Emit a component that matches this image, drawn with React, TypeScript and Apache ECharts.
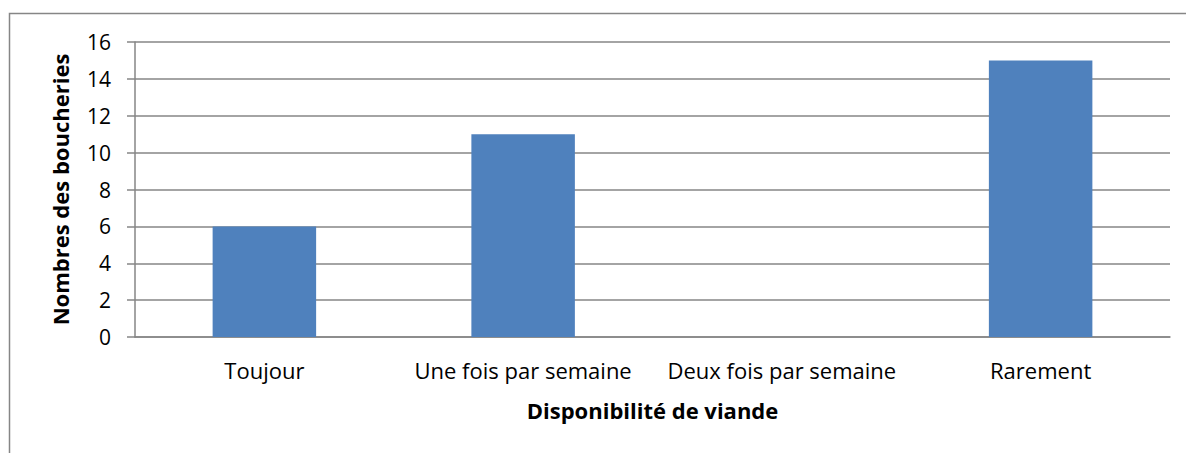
import React, { useEffect, useRef } from "react";
import * as echarts from "echarts";

const categories = ["Toujour", "Une fois par semaine", "Deux fois par semaine", "Rarement"];
const values = [6, 11, 0, 15];
const xTitle = "Disponibilité de viande";
const yTitle = "Nombres des boucheries";

export default function App() {
  const ref = useRef<HTMLDivElement>(null);
  useEffect(() => {
    if (!ref.current) return;
    const chart = echarts.init(ref.current, null, { renderer: "svg" });
    const font = "'Open Sans', 'Noto Sans', sans-serif";
    chart.setOption({
      animation: false,
      backgroundColor: "#ffffff",
      graphic: [
        {
          type: "rect",
          shape: { x: 9.5, y: 13.5, width: 1200, height: 460 },
          style: { fill: "none", stroke: "#868686", lineWidth: 1.5 },
          silent: true,
        },
      ],
      grid: { left: 135, right: 16, top: 42, bottom: 116, containLabel: false },
      xAxis: {
        type: "category",
        data: categories,
        name: xTitle,
        nameLocation: "middle",
        nameGap: 62,
        nameTextStyle: { fontFamily: font, fontSize: 22, fontWeight: "bold", color: "#000" },
        axisLine: { show: true, lineStyle: { color: "#868686", width: 1.5 } },
        axisTick: { show: false },
        axisLabel: { fontFamily: font, fontSize: 22, color: "#000", margin: 22, interval: 0 },
      },
      yAxis: {
        type: "value",
        min: 0,
        max: 16,
        interval: 2,
        name: yTitle,
        nameLocation: "middle",
        nameGap: 64,
        nameTextStyle: { fontFamily: font, fontSize: 22, fontWeight: "bold", color: "#000" },
        axisLine: { show: true, lineStyle: { color: "#868686", width: 1.5 } },
        axisTick: { show: true, length: 8, lineStyle: { color: "#868686", width: 1.5 } },
        splitLine: { show: true, lineStyle: { color: "#868686", width: 1.5 } },
        axisLabel: { fontFamily: font, fontSize: 21, color: "#000", margin: 24 },
      },
      series: [
        {
          type: "bar",
          data: values,
          barWidth: "40%",
          itemStyle: { color: "#4F81BD" },
        },
      ],
    });
    return () => chart.dispose();
  }, []);
  return (
    <div
      ref={ref}
      style={{ position: "absolute", left: 0, top: 0, width: 1186, height: 453 }}
    />
  );
}
